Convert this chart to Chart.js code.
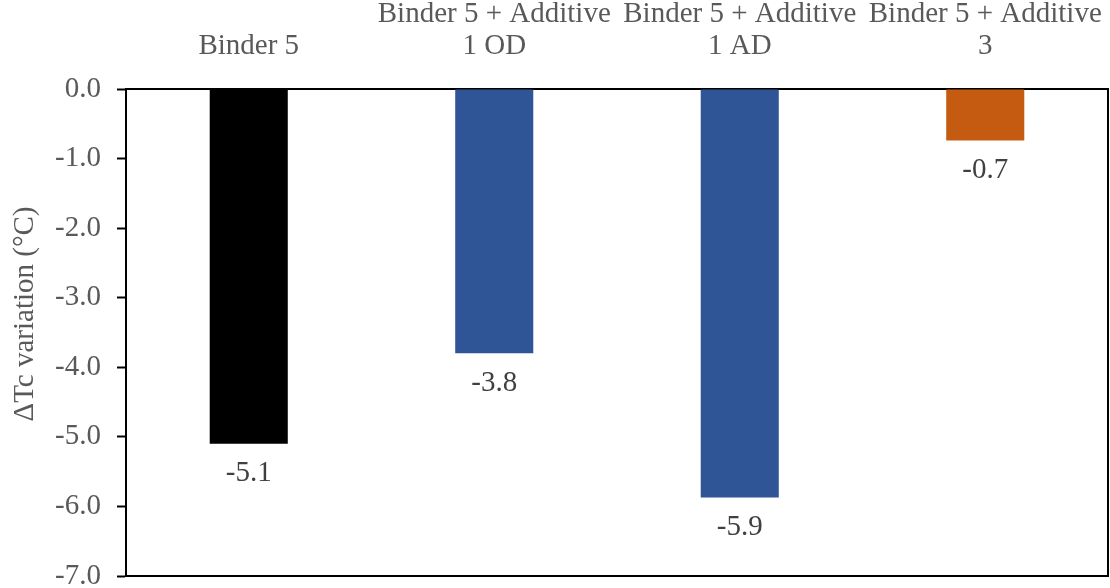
<!DOCTYPE html>
<html>
<head>
<meta charset="utf-8">
<script src="https://cdn.jsdelivr.net/npm/chart.js@4.4.0/dist/chart.umd.min.js"></script>
<style>
  html, body { margin: 0; padding: 0; background: #fff; }
  #wrap { width: 1110px; height: 588px; }
</style>
</head>
<body>
<div id="wrap"><canvas id="grafico" width="1110" height="588"></canvas></div>
<script>
// categorias e valores
const categorias = [
    ['Binder 5'],
    ['Binder 5 + Additive', '1 OD'],
    ['Binder 5 + Additive', '1 AD'],
    ['Binder 5 + Additive', '3']
];
const variacaoTc = [-5.1, -3.8, -5.87, -0.74];
const coresBarras = ['#000000', '#2F5597', '#2F5597', '#C55A11'];
const ticksY = [0, -1, -2, -3, -4, -5, -6, -7];

const fonte = '"Liberation Serif", "Times New Roman", serif';

// desenha os valores abaixo das barras, a moldura e o título do eixo
const rotulosPlugin = {
    id: 'rotulos',
    afterDatasetsDraw(chart) {
        const ctx = chart.ctx;
        const area = chart.chartArea;
        ctx.save();
        ctx.font = '29px ' + fonte;
        ctx.fillStyle = '#404040';
        ctx.textAlign = 'center';
        ctx.textBaseline = 'middle';
        chart.getDatasetMeta(0).data.forEach((bar, i) => {
            ctx.fillText(variacaoTc[i].toFixed(1), bar.x, bar.y + 30);
        });

        // linhas da direita e de baixo
        ctx.strokeStyle = '#000';
        ctx.lineWidth = 2;
        ctx.beginPath();
        ctx.moveTo(area.left, area.bottom);
        ctx.lineTo(area.right, area.bottom);
        ctx.lineTo(area.right, area.top);
        ctx.stroke();

        // título do eixo Y
        ctx.translate(25, 314);
        ctx.rotate(-Math.PI / 2);
        ctx.fillStyle = '#595959';
        ctx.fillText('\u0394Tc variation (\u00B0C)', 0, 0);
        ctx.restore();
    }
};

// tira o espaço extra que o Chart.js reserva para os rótulos das pontas
function semPadding(scale) {
    scale.paddingTop = 0;
    scale.paddingBottom = 0;
    scale.paddingLeft = 0;
    scale.paddingRight = 0;
}

const ctx = document.getElementById('grafico').getContext('2d');
const grafico = new Chart(ctx, {
    type: 'bar',
    data: {
        labels: categorias,
        datasets: [{
            data: variacaoTc,
            backgroundColor: coresBarras,
            borderWidth: 0,
            categoryPercentage: 1,
            barPercentage: 0.318
        }]
    },
    options: {
        responsive: false,
        animation: false,
        layout: { padding: { left: 0, right: 2, top: 0, bottom: 12 } },
        plugins: {
            legend: { display: false },
            tooltip: { enabled: false }
        },
        scales: {
            x: {
                position: 'top',
                grid: { display: false },
                border: { display: true, color: '#000', width: 2 },
                ticks: {
                    color: '#595959',
                    font: { family: fonte, size: 29, lineHeight: 1.12 },
                    padding: 18,
                    maxRotation: 0,
                    autoSkip: false
                },
                afterFit(scale) { scale.height = 89; semPadding(scale); }
            },
            y: {
                min: -7,
                max: 0,
                afterBuildTicks(scale) {
                    scale.ticks = ticksY.map(v => ({ value: v }));
                },
                grid: {
                    drawOnChartArea: false,
                    drawTicks: true,
                    tickLength: 9,
                    tickWidth: 2,
                    tickColor: '#000'
                },
                border: { display: true, color: '#000', width: 2 },
                ticks: {
                    color: '#595959',
                    font: { family: fonte, size: 29 },
                    padding: 16,
                    callback: v => Number(v).toFixed(1)
                },
                afterFit(scale) { scale.width = 126; semPadding(scale); }
            }
        }
    },
    plugins: [rotulosPlugin]
});
</script>
</body>
</html>
